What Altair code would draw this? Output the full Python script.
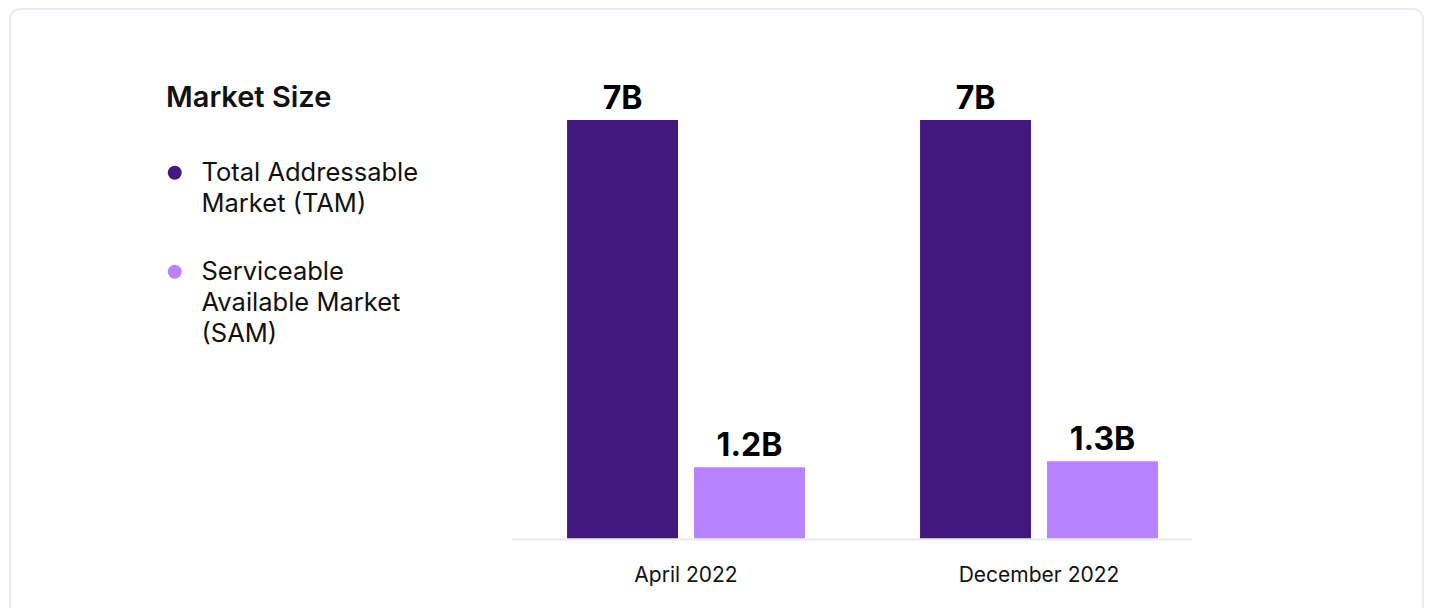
import altair as alt
import pandas as pd

# ---- data ----
periods = ["April 2022", "April 2022", "December 2022", "December 2022"]
series = ["Total Addressable Market (TAM)", "Serviceable Available Market (SAM)",
          "Total Addressable Market (TAM)", "Serviceable Available Market (SAM)"]
values = [7, 1.2, 7, 1.3]

period_order = ["April 2022", "December 2022"]
series_order = ["Total Addressable Market (TAM)", "Serviceable Available Market (SAM)"]
series_colors = ["#43197F", "#B982FF"]

df = pd.DataFrame({"period": periods, "series": series, "value": values})

FONT = "Inter"

label_expr = (
    "datum.label == 'Total Addressable Market (TAM)' ? "
    "['Total Addressable', 'Market (TAM)'] : "
    "['Serviceable', 'Available Market', '(SAM)']"
)

base = alt.Chart(df).encode(
    x=alt.X(
        "period:N",
        sort=period_order,
        scale=alt.Scale(paddingInner=0.326, paddingOuter=0.1248, align=0.625, round=False),
        axis=alt.Axis(
            title=None, ticks=False, tickSize=0, labelPadding=25,
            labelFont=FONT, labelFontSize=21, labelColor="#111111",
            labelAngle=0, domainColor="#ECECF3", domainWidth=2.5, zindex=1,
        ),
    ),
    xOffset=alt.XOffset(
        "series:N", sort=series_order,
        scale=alt.Scale(paddingInner=0.126, paddingOuter=0, round=False),
    ),
    y=alt.Y("value:Q", scale=alt.Scale(domain=[0, 7], nice=False), axis=None),
)

bars = base.mark_bar().encode(
    color=alt.Color(
        "series:N",
        sort=series_order,
        scale=alt.Scale(domain=series_order, range=series_colors),
        legend=alt.Legend(
            title="Market Size",
            orient="none", legendX=-346, legendY=-36,
            titleFont=FONT, titleFontSize=29, titleFontWeight=600,
            titleColor="#111111", titlePadding=47,
            labelFont=FONT, labelFontSize=25.5, labelColor="#111111",
            labelExpr=label_expr, labelLimit=400, labelOffset=14,
            labelBaseline="middle",
            symbolType="circle", symbolSize=196, symbolStrokeWidth=0,
            symbolOffset=-4, rowPadding=41,
        ),
    )
)

labels = base.transform_calculate(
    label="datum.value + 'B'"
).mark_text(
    dy=-11.5, baseline="alphabetic", font=FONT, fontSize=32,
    fontWeight="bold", color="#000000",
).encode(text="label:N")

frame = alt.Chart(alt.Data(values=[{}])).mark_rect(
    fill="transparent", stroke="#EBEBF2", strokeWidth=2, cornerRadius=10,
).encode(
    x=alt.value(-502), x2=alt.value(911),
    y=alt.value(-111), y2=alt.value(520),
)

chart = alt.layer(frame, bars, labels).properties(
    width=679, height=419,
    padding={"left": 504, "top": 112, "right": 233, "bottom": 69},
    autosize="none",
    background="white",
).configure(
    view={"stroke": "transparent"},
    style={"guide-label": {"lineHeight": 31}},
)

chart.save("out.html", embed_options={"renderer": "svg", "actions": False})
